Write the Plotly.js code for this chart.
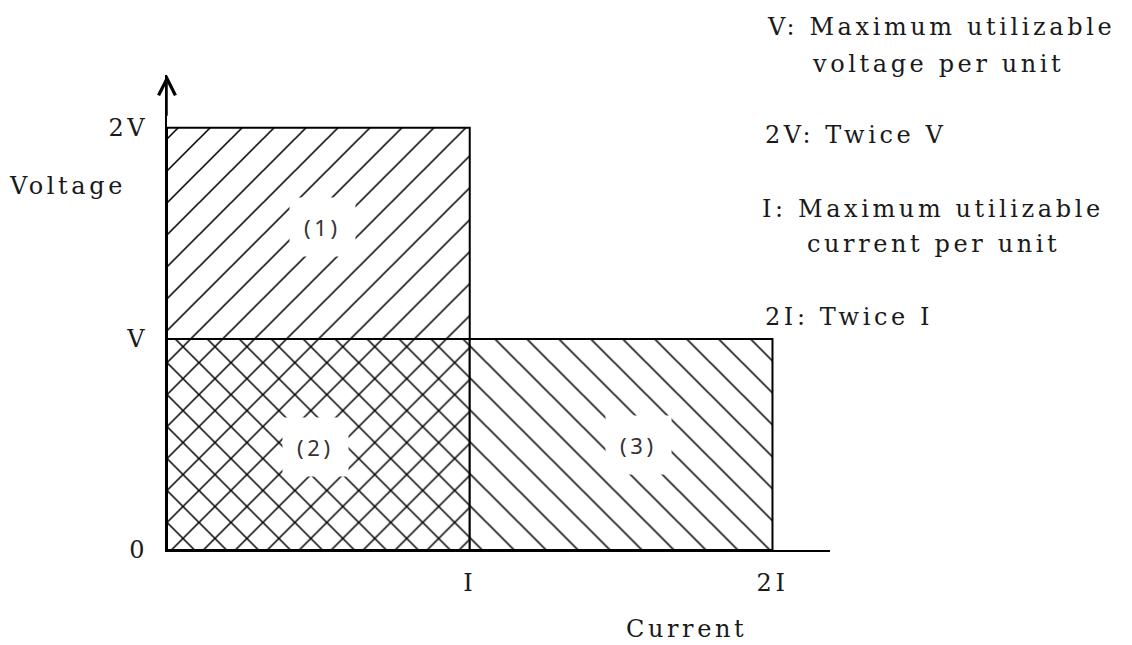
<!DOCTYPE html>
<html>
<head>
<meta charset="utf-8">
<script src="https://cdn.plot.ly/plotly-3.0.1.min.js"></script>
<style>
  body { margin: 0; background: #fff; }
  #chart { width: 1132px; height: 645px; }
  /* typewriter look: wide letter spacing */
  .annotation-text, .xtick text, .ytick text { letter-spacing: 3.6px; }
</style>
</head>
<body>
<div id="chart"></div>
<script>

// regions of the voltage / current plane
var regionNames = ["(1)", "(2)", "(3)"];
var regionX0 = [0, 0, 1];
var regionX1 = [1, 1, 2];
var regionY0 = [1, 0, 0];
var regionY1 = [2, 1, 1];
var regionHatch = ["/", "x", "\\"];
var labelX = [0.515, 0.489, 1.556];
var labelY = [1.53, 0.488, 0.497];

// axis ticks
var xTickVals = [1, 2];
var xTickText = ["I", "2I"];
var yTickVals = [0, 1, 2];
var yTickText = ["0", "V", "2V"];

// legend notes on the right
var noteText = ["V: Maximum utilizable", "voltage per unit", "2V: Twice V",
                "I: Maximum utilizable", "current per unit", "2I: Twice I"];
var noteLeft = [765, 810, 763, 760, 805, 763];
var noteMid = [27, 64, 135, 209, 244, 317];

var txtFont = {family: "DejaVu Serif", size: 24, color: "#1a1a1a"};

// plot box in pixels (used to turn pixel spots into paper coords)
var L = 167, T = 75, W = 663, H = 475;
function px(x){ return (x - L) / W; }
function py(y){ return (T + H - y) / H; }

var data = [];
for (var i = 0; i < regionNames.length; i++) {
    var hatch = regionHatch[i];
    // line width of the 'x' pattern grows slower with solidity
    var sol = (hatch == 'x') ? 0.13 : 0.07;
    data.push({
        x: [regionX0[i], regionX1[i], regionX1[i], regionX0[i], regionX0[i]],
        y: [regionY0[i], regionY0[i], regionY1[i], regionY1[i], regionY0[i]],
        type: 'scatter',
        mode: 'lines',
        fill: 'toself',
        fillcolor: 'rgba(0,0,0,0)',
        fillpattern: {shape: hatch, size: 22.6, solidity: sol,
                      fgcolor: '#000', bgcolor: 'white'},
        line: {color: '#000', width: 2},
        cliponaxis: false,
        hoverinfo: 'skip',
        showlegend: false
    });
}

var ann = [];
for (var i = 0; i < regionNames.length; i++) {
    ann.push({
        x: labelX[i], y: labelY[i], xref: 'x', yref: 'y',
        text: regionNames[i], showarrow: false,
        font: {family: "Noto Sans", size: 22, color: '#333'},
        bgcolor: 'white', borderpad: 14
    });
}
// arrow on top of the voltage axis
ann.push({
    x: 0, y: 2.25, ax: 0, ay: 2.05, xref: 'x', yref: 'y', axref: 'x', ayref: 'y',
    text: '', showarrow: true, arrowhead: 5, arrowsize: 2.2, arrowwidth: 1.5, arrowcolor: '#000'
});
ann.push({x: px(67), y: py(186), xref: 'paper', yref: 'paper', xanchor: 'center', yanchor: 'middle',
          text: 'Voltage', showarrow: false, font: txtFont});
ann.push({x: px(686), y: py(629), xref: 'paper', yref: 'paper', xanchor: 'center', yanchor: 'middle',
          text: 'Current', showarrow: false, font: txtFont});
for (var j = 0; j < noteText.length; j++) {
    ann.push({
        x: px(noteLeft[j]), y: py(noteMid[j]), xref: 'paper', yref: 'paper',
        xanchor: 'left', yanchor: 'middle',
        text: noteText[j], showarrow: false, font: txtFont
    });
}

var layout = {
    width: 1132, height: 645,
    margin: {l: L, t: T, r: 1132 - L - W, b: 645 - T - H},
    paper_bgcolor: 'white', plot_bgcolor: 'white',
    showlegend: false,
    xaxis: {
        range: [0, 2.19], showgrid: false, zeroline: false,
        showline: true, linecolor: '#000', linewidth: 2,
        ticks: '', tickvals: xTickVals, ticktext: xTickText,
        ticklabelstandoff: 10, tickfont: txtFont
    },
    yaxis: {
        range: [0, 2.25], showgrid: false, zeroline: false,
        showline: true, linecolor: '#000', linewidth: 2,
        ticks: '', tickvals: yTickVals, ticktext: yTickText,
        ticklabelstandoff: 12, tickfont: txtFont
    },
    annotations: ann
};

Plotly.newPlot("chart", data, layout, {staticPlot: true});

</script>
</body>
</html>
